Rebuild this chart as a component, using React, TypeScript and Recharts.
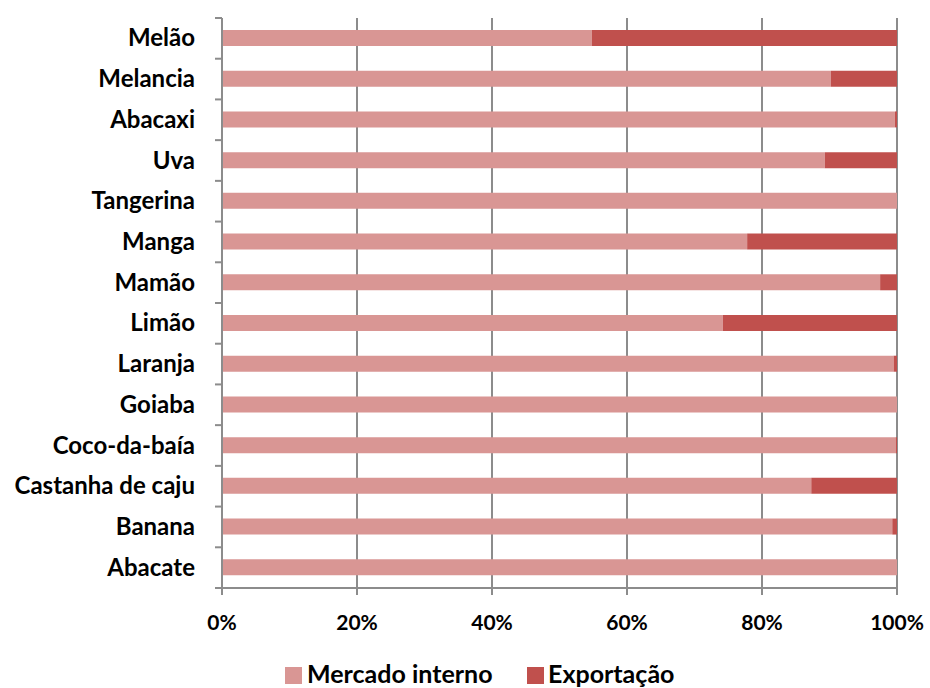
import { BarChart, Bar, XAxis, YAxis, CartesianGrid } from 'recharts'

const categories = [
  'Melão', 'Melancia', 'Abacaxi', 'Uva', 'Tangerina', 'Manga', 'Mamão',
  'Limão', 'Laranja', 'Goiaba', 'Coco-da-baía', 'Castanha de caju', 'Banana', 'Abacate',
]
const mercadoInterno = [54.8, 90.2, 99.7, 89.3, 100, 77.8, 97.5, 74.2, 99.5, 100, 99.8, 87.3, 99.3, 100]
const exportacao = [45.2, 9.8, 0.3, 10.7, 0, 22.2, 2.5, 25.8, 0.5, 0, 0.2, 12.7, 0.7, 0]
const xTicks = [0, 20, 40, 60, 80, 100]

const data = categories.map((name, i) => ({
  name,
  interno: mercadoInterno[i],
  export: exportacao[i],
}))

const LIGHT = '#D99694'
const DARK = '#C0504D'
const AXIS = '#8c8c8c'
const FONT = 'Lato, "Open Sans", sans-serif'

const TOP = 18
const PLOT_H = 570
const AXIS_X = 222
const band = PLOT_H / categories.length

const YTick = (props: any) => {
  const { y, payload, index } = props
  return (
    <g>
      <line x1={AXIS_X - 7} x2={AXIS_X} y1={y - band / 2} y2={y - band / 2} stroke={AXIS} strokeWidth={2} />
      {index === categories.length - 1 && (
        <line x1={AXIS_X - 7} x2={AXIS_X} y1={y + band / 2} y2={y + band / 2} stroke={AXIS} strokeWidth={2} />
      )}
      <text x={195} y={y} dy={8} textAnchor="end" fontFamily={FONT} fontWeight={700} fontSize={24} fill="#000">
        {payload.value}
      </text>
    </g>
  )
}

const Legend = () => (
  <g fontFamily={FONT} fontWeight={700} fontSize={25}>
    <rect x={285} y={667} width={17} height={17} fill={LIGHT} />
    <text x={307} y={683}>Mercado interno</text>
    <rect x={527} y={667} width={17} height={17} fill={DARK} />
    <text x={548} y={683}>Exportação</text>
  </g>
)

export default function App() {
  return (
    <div style={{ position: 'absolute', left: 0, top: 0, background: '#fff' }}>
      <BarChart
        width={930}
        height={688}
        data={data}
        layout="vertical"
        margin={{ top: TOP, right: 33, left: 0, bottom: 0 }}
        barSize={16}
      >
        <CartesianGrid horizontal={false} vertical stroke={AXIS} strokeWidth={2} />
        <XAxis
          type="number"
          domain={[0, 100]}
          ticks={xTicks}
          tickFormatter={(v: number) => `${v}%`}
          axisLine={{ stroke: AXIS, strokeWidth: 2 }}
          tickLine={{ stroke: AXIS, strokeWidth: 2 }}
          tickSize={7}
          tickMargin={20}
          height={100}
          tick={{ fontFamily: FONT, fontWeight: 700, fontSize: 21, fill: '#000' }}
          interval={0}
        />
        <YAxis
          type="category"
          dataKey="name"
          width={AXIS_X}
          axisLine={{ stroke: AXIS, strokeWidth: 2 }}
          tickLine={false}
          tick={<YTick />}
          interval={0}
        />
        <Bar dataKey="interno" stackId="a" fill={LIGHT} isAnimationActive={false} />
        <Bar dataKey="export" stackId="a" fill={DARK} isAnimationActive={false} />
        <Legend />
      </BarChart>
    </div>
  )
}
